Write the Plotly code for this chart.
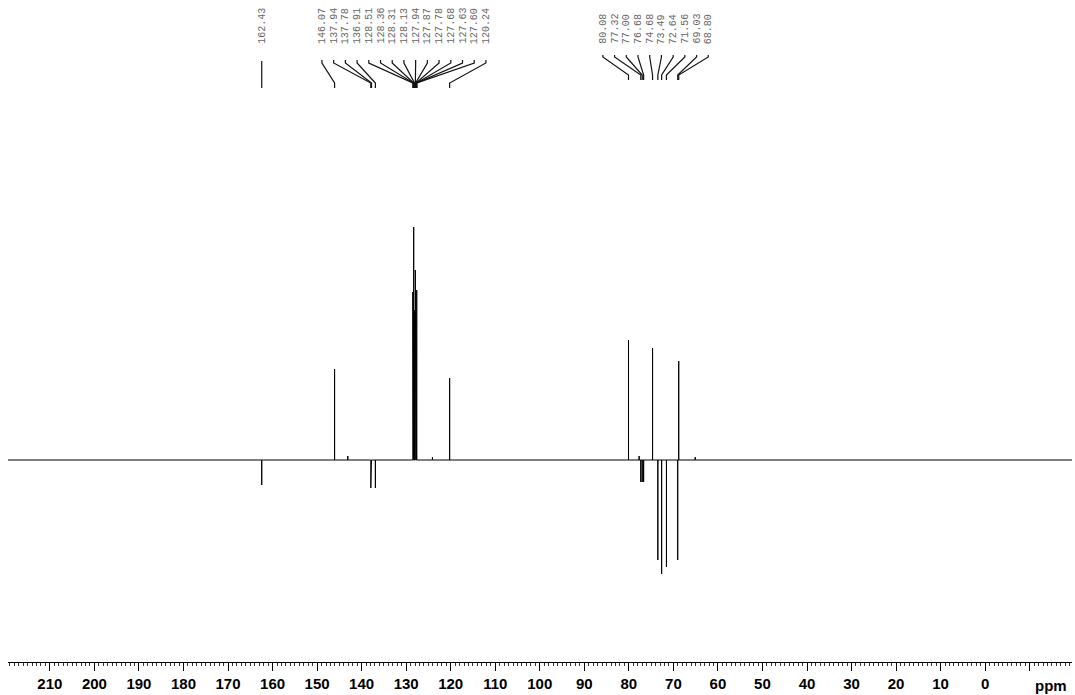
import plotly.graph_objects as go

# 13C DEPT-135 peaks: shift (ppm) and signed intensity (arbitrary units)
peak_ppm = [162.43, 146.07, 137.94, 137.78, 136.91, 128.51, 128.36, 128.31, 128.13,
            127.94, 127.87, 127.78, 127.68, 127.63, 127.60, 120.24,
            80.08, 77.32, 77.00, 76.68, 74.68, 73.49, 72.64, 71.56, 69.03, 68.80]
peak_int = [-25, 91, -28, -28, -28, 168, 120, 233, 150,
            190, 170, 100, 165, 170, 120, 82,
            120, -22, -22, -22, 112, -100, -114, -107, -100, 99]

# small baseline bumps
bump_ppm = [143.1, 124.1, 77.7, 65.1]
bump_int = [4, 3, 4, 3]

# peak-pick labels, grouped as printed above the spectrum
single_labels = ["162.43"]
group1_labels = ["146.07", "137.94", "137.78", "136.91", "128.51", "128.36", "128.31",
                 "128.13", "127.94", "127.87", "127.78", "127.68", "127.63", "127.60", "120.24"]
group2_labels = ["80.08", "77.32", "77.00", "76.68", "74.68", "73.49", "72.64",
                 "71.56", "69.03", "68.80"]

tick_vals = list(range(210, -11, -10))
tick_text = [str(v) if v >= 0 else "" for v in tick_vals]

X_RANGE = [219.4, -19.5]
Y_RANGE = [-202, 355]
H, T, B = 695, 105, 33
PLOT_H = H - T - B


def py(pix):
    # pixel row in the page -> paper y
    return (H - B - pix) / PLOT_H


# build the spectrum trace: baseline with spikes
pts = sorted(zip(peak_ppm + bump_ppm, peak_int + bump_int), key=lambda t: -t[0])
xs, ys = [X_RANGE[0]], [0]
for p, h in pts:
    xs += [p, p, p]
    ys += [0, h, 0]
xs.append(X_RANGE[1])
ys.append(0)

fig = go.Figure()
fig.add_trace(go.Scatter(x=xs, y=ys, mode="lines",
                         line=dict(color="black", width=1), hoverinfo="skip"))

label_font = dict(family="Liberation Mono", size=10, color="#666666")
spacing = 2.63
shapes = []
annotations = []


def add_group(labels, center, y_top, y_bend, y_diag, y_end):
    n = len(labels)
    for i, lab in enumerate(labels):
        lx = center + ((n - 1) / 2 - i) * spacing
        peak = float(lab)
        annotations.append(dict(x=lx, y=py(46), xref="x", yref="paper", text=lab,
                                textangle=-90, showarrow=False, font=label_font,
                                xanchor="center", yanchor="bottom"))
        shapes.append(dict(type="path", xref="x", yref="paper",
                           path=f"M {lx},{py(y_top)} L {lx},{py(y_bend)} "
                                f"L {peak},{py(y_diag)} L {peak},{py(y_end)}",
                           line=dict(color="#111111", width=1.2)))


add_group(single_labels, 162.43, 61, 62, 83, 88)
add_group(group1_labels, 130.5, 60, 63, 83, 88)
add_group(group2_labels, 74.0, 55, 57, 75, 80)

annotations.append(dict(x=-14.8, y=py(685), xref="x", yref="paper", text="ppm",
                        showarrow=False, xanchor="center", yanchor="middle",
                        font=dict(family="Liberation Sans", size=15, color="black",
                                  weight="bold")))

fig.update_layout(
    width=1075, height=H,
    margin=dict(l=8, r=3, t=T, b=B),
    plot_bgcolor="white", paper_bgcolor="white",
    showlegend=False,
    shapes=shapes, annotations=annotations,
    xaxis=dict(range=X_RANGE, showgrid=False, zeroline=False,
               showline=True, linecolor="black", linewidth=1,
               tickmode="array", tickvals=tick_vals, ticktext=tick_text,
               ticks="outside", ticklen=8, tickcolor="black", tickwidth=1,
               tickfont=dict(family="Liberation Sans", size=15, color="black",
                             weight="bold"),
               minor=dict(dtick=1, tick0=0, ticks="outside", ticklen=3,
                          tickcolor="#333333", tickwidth=1, showgrid=False)),
    yaxis=dict(range=Y_RANGE, visible=False, showgrid=False, zeroline=False),
)

# page body has a default margin; drop it so the figure fills the window
fig.write_html("out.html", config={"displayModeBar": False},
               post_script="document.body.style.margin='0';")
